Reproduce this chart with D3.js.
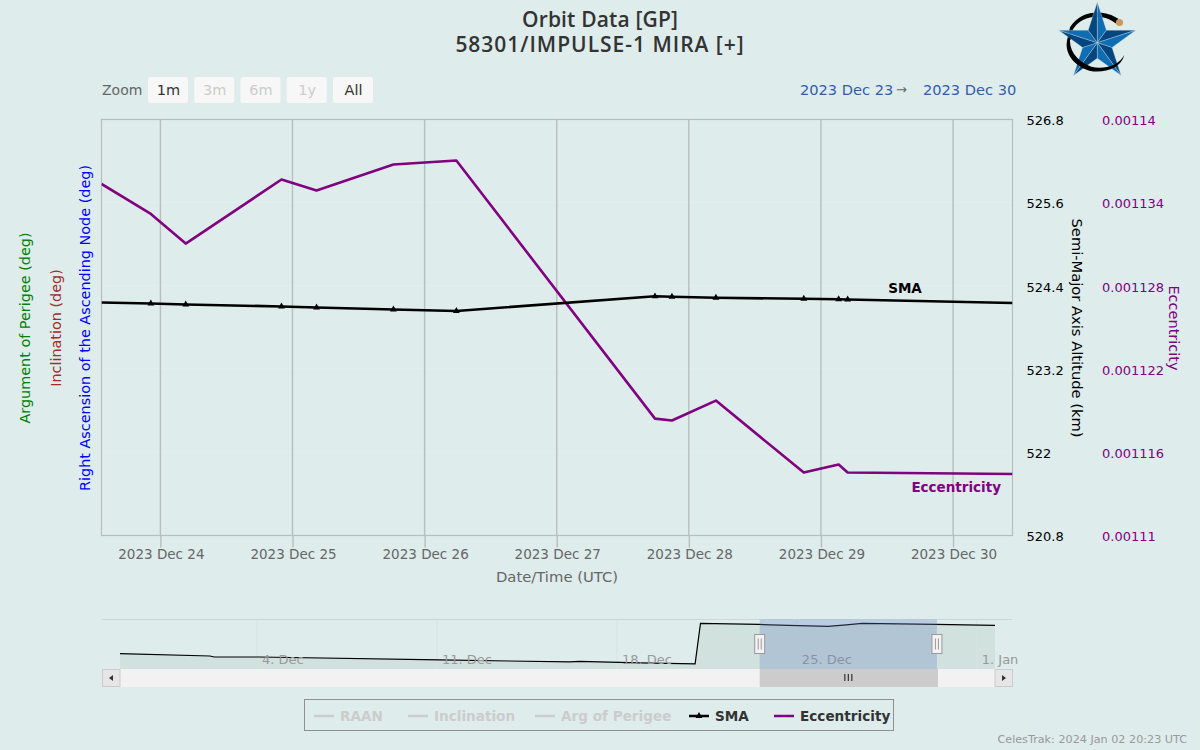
<!DOCTYPE html>
<html><head><meta charset="utf-8">
<script src="https://cdnjs.cloudflare.com/ajax/libs/d3/7.8.5/d3.min.js"></script>
<style>html,body{margin:0;padding:0;background:#deecec}svg{display:block;font-family:"DejaVu Sans",sans-serif}</style>
</head><body><svg id="c" width="1200" height="750"></svg>
<script>
const epochs=["2023-12-23T13:18Z","2023-12-23T22:16Z","2023-12-24T04:36Z","2023-12-24T22:00Z","2023-12-25T04:22Z","2023-12-25T18:20Z","2023-12-26T05:46Z","2023-12-27T17:51Z","2023-12-27T20:56Z","2023-12-28T04:55Z","2023-12-28T20:53Z","2023-12-29T03:13Z","2023-12-29T04:51Z","2023-12-30T10:48Z"];
const smaValues=[524.161,524.146,524.132,524.103,524.088,524.060,524.038,524.250,524.243,524.229,524.214,524.207,524.204,524.153];
const eccValues=[0.00113535,0.00113319,0.00113105,0.00113567,0.00113488,0.00113675,0.00113704,0.00111843,0.00111829,0.00111973,0.00111454,0.00111512,0.00111454,0.00111444];
const xTickDates=["2023-12-24","2023-12-25","2023-12-26","2023-12-27","2023-12-28","2023-12-29","2023-12-30"];
const smaTicks=[526.8,525.6,524.4,523.2,522,520.8];
const eccTicks=[0.00114,0.001134,0.001128,0.001122,0.001116,0.00111];
const eccTickLabels=["0.00114","0.001134","0.001128","0.001122","0.001116","0.00111"];
const navDates=["2023-11-28T16:00Z","2023-12-02T04:00Z","2023-12-02T08:00Z","2023-12-04T02:00Z","2023-12-11T02:00Z","2023-12-16T04:00Z","2023-12-16T13:00Z","2023-12-18T21:00Z","2023-12-21T01:00Z","2023-12-21T06:00Z","2023-12-23T13:00Z","2023-12-24T16:00Z","2023-12-26T05:00Z","2023-12-26T22:00Z","2023-12-27T13:00Z","2023-12-30T10:00Z","2024-01-01T17:00Z"];
const navValues=[522.12,521.95,521.88,521.88,521.67,521.53,521.57,521.46,521.39,524.25,524.18,524.11,524.04,524.15,524.25,524.18,524.11];
const navTickDates=["2023-12-04","2023-12-11","2023-12-18","2023-12-25","2024-01-01"];
const rangeButtons=["1m","3m","6m","1y","All"];
const rangeEnabled=[true,false,false,false,true];
const legendNames=["RAAN","Inclination","Arg of Perigee","SMA","Eccentricity"];
const legendColors=["#cccccc","#cccccc","#cccccc","#000000","#800080"];
const legendVisible=[false,false,false,true,true];

const parse=s=>new Date(s);
const svg=d3.select("#c");
const P={l:101.5,r:1012.5,t:119.5,b:535.5};
const x=d3.scaleUtc().domain([parse("2023-12-23T13:18Z"),parse("2023-12-30T10:48Z")]).range([P.l,P.r]);
const ySma=d3.scaleLinear().domain([520.8,526.8]).range([P.b,P.t]);
const yEcc=d3.scaleLinear().domain([0.00111,0.00114]).range([P.b,P.t]);

svg.append("defs").append("clipPath").attr("id","pc").append("rect").attr("x",P.l).attr("y",P.t).attr("width",P.r-P.l).attr("height",P.b-P.t);

// titles
const title=svg.append("g").attr("text-anchor","middle").attr("fill","#333").attr("font-family","'Open Sans'").attr("font-weight",600).attr("font-size",21);
title.append("text").attr("x",600).attr("y",27).attr("letter-spacing",0.15).text("Orbit Data [GP]");
title.append("text").attr("x",600).attr("y",52).attr("letter-spacing",0.98).text("58301/IMPULSE-1 MIRA [+]");

// logo
const logo=svg.append("g").attr("transform","translate(1097.3,42.7)");
logo.append("path").attr("fill","#000").attr("d","M21,-24 C8,-33 -15,-34 -27,-16 C-29,-10 -30,-6 -30,0 L-26,-4 C-26,-8 -25,-11 -24,-14 C-15,-28 6,-30 19,-19 Z");
logo.append("circle").attr("cx",22.2).attr("cy",-20.2).attr("r",3.6).attr("fill","#c99a5b");
const pt=(r,k)=>{const a=-Math.PI/2+k*Math.PI/5;return [r*Math.cos(a),r*Math.sin(a)];};
for(let k=0;k<10;k++){
  const o=k%2===0?pt(40.5,k):pt(15.5,k), n=k%2===0?pt(15.5,k+1):pt(40.5,k+1);
  logo.append("path").attr("d",`M0,0L${o}L${n}Z`).attr("fill",k%2===0?"#0e6db3":"#06467f").attr("stroke","#cfe0ea").attr("stroke-width",0.35);
}
logo.append("path").attr("fill","#000").attr("d","M-30,-3 C-33,8 -26,22 -8,28 C6,31 24,26 27,12 C22,23 6,27 -6,24 C-22,18 -29,6 -27,-6 Z");

// range selector
svg.append("text").attr("x",102).attr("y",95).attr("fill","#666").attr("font-size",14).text("Zoom");
const btnX=d3.scalePoint().domain(rangeButtons).range([148,333]);
rangeButtons.forEach((b,i)=>{
  const g=svg.append("g").attr("transform",`translate(${btnX(b)},77)`);
  g.append("rect").attr("width",40).attr("height",26).attr("rx",2).attr("fill","#f7f7f7");
  g.append("text").attr("x",20.5).attr("y",18).attr("text-anchor","middle").attr("font-size",14.5).attr("fill",rangeEnabled[i]?"#333":"#cccccc").text(b);
});
const fmtRange=d3.utcFormat("%Y %b %d");
const rg=svg.append("g").attr("font-size",14.6);
rg.append("text").attr("x",800).attr("y",95).attr("fill","#335cad").text(fmtRange(parse("2023-12-23")));
rg.append("text").attr("x",896).attr("y",94).attr("fill","#666").attr("font-size",13).text("→");
rg.append("text").attr("x",923).attr("y",95).attr("fill","#335cad").text(fmtRange(parse("2023-12-30")));

// grid
const grid=svg.append("g");
smaTicks.slice(1,-1).forEach(v=>grid.append("line").attr("x1",P.l).attr("x2",P.r).attr("y1",ySma(v)).attr("y2",ySma(v)).attr("stroke","#e3efee").attr("stroke-width",1));
xTickDates.forEach(d=>grid.append("line").attr("x1",x(parse(d))).attr("x2",x(parse(d))).attr("y1",P.t).attr("y2",P.b).attr("stroke","#b9bdbd").attr("stroke-width",1.4));
svg.append("rect").attr("x",P.l).attr("y",P.t).attr("width",P.r-P.l).attr("height",P.b-P.t).attr("fill","none").attr("stroke","#b9bdbd").attr("stroke-width",1.2);

// series
const dates=epochs.map(parse);
const plot=svg.append("g").attr("clip-path","url(#pc)");
plot.append("path").attr("fill","none").attr("stroke","#800080").attr("stroke-width",2.6).attr("stroke-linejoin","round")
  .attr("d",d3.line().x((d,i)=>x(dates[i])).y(d=>yEcc(d))(eccValues));
plot.append("path").attr("fill","none").attr("stroke","#000").attr("stroke-width",2.6).attr("stroke-linejoin","round")
  .attr("d",d3.line().x((d,i)=>x(dates[i])).y(d=>ySma(d))(smaValues));
const tri=d3.symbol().type(d3.symbolTriangle).size(20)();
plot.selectAll("path.m").data(smaValues.slice(1,-1)).join("path").attr("class","m").attr("d",tri).attr("fill","#000")
  .attr("transform",(d,i)=>`translate(${x(dates[i+1])},${ySma(d)})`);
svg.append("text").attr("x",905).attr("y",293).attr("text-anchor","middle").attr("font-weight","bold").attr("font-size",13.5).attr("fill","#000").text("SMA");
svg.append("text").attr("x",1001).attr("y",492).attr("text-anchor","end").attr("font-weight","bold").attr("font-size",13.5).attr("fill","#800080").text("Eccentricity");

// axes
const xa=svg.append("g").attr("transform",`translate(0,${P.b})`).call(d3.axisBottom(x).tickValues(xTickDates.map(parse)).tickSizeInner(12).tickSizeOuter(0).tickPadding(2).tickFormat(d3.utcFormat("%Y %b %d")));
xa.select(".domain").remove();
xa.selectAll("line").attr("stroke","#b9bdbd").attr("stroke-width",1.4);
xa.selectAll("text").attr("fill","#666").attr("font-size",13.5).attr("font-family","DejaVu Sans").attr("dx",0.5);
svg.append("text").attr("x",557).attr("y",582).attr("text-anchor","middle").attr("font-size",14.8).attr("fill","#666").text("Date/Time (UTC)");
const ya=svg.append("g").attr("transform","translate(1026.5,1)").call(d3.axisRight(ySma).tickValues(smaTicks).tickSize(0).tickPadding(0).tickFormat(d=>d3.format("~f")(d)));
ya.select(".domain").remove();
ya.selectAll("text").attr("fill","#000").attr("font-size",13).attr("font-family","DejaVu Sans");
const ye=svg.append("g").attr("transform","translate(1102,1)").call(d3.axisRight(yEcc).tickValues(eccTicks).tickSize(0).tickPadding(0).tickFormat((d,i)=>eccTickLabels[i]));
ye.select(".domain").remove();
ye.selectAll("text").attr("fill","#800080").attr("font-size",13).attr("font-family","DejaVu Sans");

const vt=(tx,rot,col,s,fs)=>svg.append("text").attr("transform",`translate(${tx},328) rotate(${rot})`).attr("text-anchor","middle").attr("font-size",fs).attr("fill",col).text(s);
vt(30,-90,"#008000","Argument of Perigee (deg)",14.4);
vt(61,-90,"#a52a2a","Inclination (deg)",14.4);
vt(90,-90,"#0000ff","Right Ascension of the Ascending Node (deg)",14.4);
vt(1072,90,"#000","Semi-Major Axis Altitude (km)",14.7);
vt(1169,90,"#800080","Eccentricity",14.5);

// navigator
const N={l:120,r:995,t:619.5,b:669};
const nx=d3.scaleUtc().domain([parse("2023-11-28T16:00Z"),parse("2024-01-01T17:00Z")]).range([N.l,N.r]);
const ny=d3.scaleLinear().domain([521.03,524.53]).range([N.b,N.t]);
const nd=navDates.map(parse);
svg.append("line").attr("x1",102).attr("x2",1012).attr("y1",N.t).attr("y2",N.t).attr("stroke","#ccd6d6");
svg.append("path").attr("fill","#d1e1dd").attr("d",d3.area().x((d,i)=>nx(nd[i])).y0(N.b).y1(d=>ny(d))(navValues));
navTickDates.forEach(d=>svg.append("line").attr("x1",nx(parse(d))).attr("x2",nx(parse(d))).attr("y1",N.t).attr("y2",N.b).attr("stroke","#d5e4e2"));
svg.append("path").attr("fill","none").attr("stroke","#000").attr("stroke-width",1.2).attr("d",d3.line().x((d,i)=>nx(nd[i])).y(d=>ny(d))(navValues));
const fmtNav=d3.utcFormat("%-d. %b");
navTickDates.forEach(d=>svg.append("text").attr("x",nx(parse(d))+5).attr("y",664).attr("font-size",13).attr("fill","#999").text(fmtNav(parse(d))));
const s0=x.domain()[0],s1=x.domain()[1];
svg.append("rect").attr("x",nx(s0)).attr("y",N.t).attr("width",nx(s1)-nx(s0)).attr("height",N.b-N.t).attr("fill","#6685c2").attr("fill-opacity",0.3);
[s0,s1].forEach(t=>{
  const hx=nx(t);
  svg.append("rect").attr("x",hx-5).attr("y",634.5).attr("width",10).attr("height",19).attr("fill","#f2f2f2").attr("stroke","#999");
  [-1.5,1.5].forEach(o=>svg.append("line").attr("x1",hx+o).attr("x2",hx+o).attr("y1",638.5).attr("y2",649.5).attr("stroke","#999"));
});
// scrollbar
svg.append("rect").attr("x",102).attr("y",669).attr("width",910).attr("height",18).attr("fill","#f2f2f2");
svg.append("rect").attr("x",nx(s0)).attr("y",669).attr("width",nx(s1)-nx(s0)+1).attr("height",18).attr("fill","#cccccc");
[-3.5,0,3.5].forEach(o=>svg.append("line").attr("x1",(nx(s0)+nx(s1))/2+o).attr("x2",(nx(s0)+nx(s1))/2+o).attr("y1",674).attr("y2",681).attr("stroke","#333").attr("stroke-width",1.2));
[[102,"M113,675L113,681L109,678Z"],[994.5,"M1002,675L1002,681L1006,678Z"]].forEach(([bx,p])=>{
  svg.append("rect").attr("x",bx+0.5).attr("y",669.5).attr("width",17.5).attr("height",17).attr("fill","#e6e6e6").attr("stroke","#cccccc");
  svg.append("path").attr("d",p).attr("fill","#333");
});

// legend
svg.append("rect").attr("x",304.5).attr("y",699.5).attr("width",589).attr("height",31).attr("fill","none").attr("stroke","#909090").attr("stroke-width",1);
const legendX=d3.scaleOrdinal().domain(legendNames).range([314,408,535,689,774]);
legendNames.forEach((n,i)=>{
  const lx=legendX(n);
  svg.append("line").attr("x1",lx).attr("x2",lx+20).attr("y1",716).attr("y2",716).attr("stroke",legendColors[i]).attr("stroke-width",2.5);
  if(n==="SMA")svg.append("path").attr("d",tri).attr("transform",`translate(${lx+10},716)`).attr("fill","#000");
  svg.append("text").attr("x",lx+26).attr("y",721).attr("font-weight","bold").attr("font-size",13.6).attr("fill",legendVisible[i]?"#333":"#cccccc").text(n);
});
svg.append("text").attr("x",1187).attr("y",743).attr("text-anchor","end").attr("font-size",11.2).attr("fill","#999").text("CelesTrak: 2024 Jan 02 20:23 UTC");
</script></body></html>
